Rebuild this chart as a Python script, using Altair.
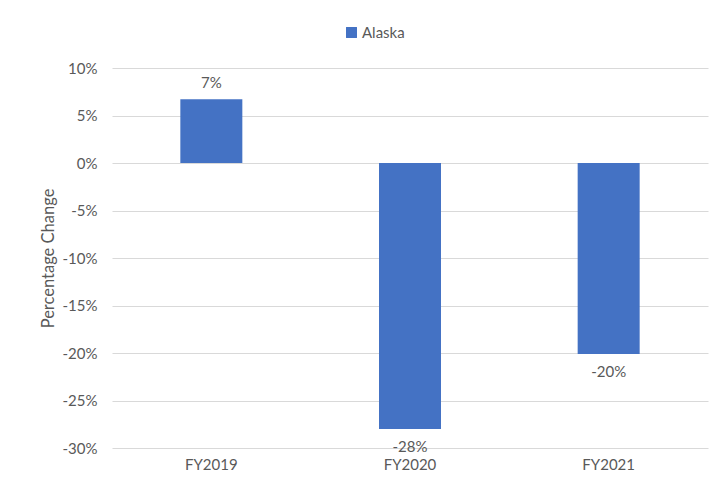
import altair as alt
import pandas as pd

years = ["FY2019", "FY2020", "FY2021"]
changes = [0.067, -0.280, -0.201]
series = ["Alaska", "Alaska", "Alaska"]
y_ticks = [0.10, 0.05, 0.0, -0.05, -0.10, -0.15, -0.20, -0.25, -0.30]

df = pd.DataFrame({"year": years, "change": changes, "series": series})

FONT = "Lato"
GREY = "#595959"
BLUE = "#4472C4"
MINUS_FIX = "replace(format(datum.value, '.0%'), '\u2212', '-')"

xenc = alt.X("year:N", sort=years, title=None,
             scale=alt.Scale(paddingInner=0.688, paddingOuter=0.344),
             axis=alt.Axis(labelAngle=0, domain=False, ticks=False, labelPadding=9,
                           labelFont=FONT, labelFontSize=15, labelColor=GREY))

yscale = alt.Scale(domain=[-0.30, 0.10], nice=False)

bars = alt.Chart(df).mark_bar(size=62).encode(
    x=xenc,
    y=alt.Y("change:Q", scale=yscale, title="Percentage Change",
            axis=alt.Axis(values=y_ticks, labelExpr=MINUS_FIX, domain=False, ticks=False,
                          labelPadding=15, labelFont=FONT, labelFontSize=15, labelColor=GREY,
                          titleFont=FONT, titleFontSize=16.5, titleColor=GREY,
                          titleFontWeight="normal", titlePadding=6,
                          gridColor="#d9d9d9", gridWidth=1)),
    color=alt.Color("series:N", scale=alt.Scale(range=[BLUE]), title=None,
                    legend=alt.Legend(orient="none", legendX=232, legendY=-43,
                                      symbolType="square", symbolSize=120,
                                      symbolStrokeWidth=0, labelFont=FONT,
                                      labelFontSize=15, labelColor=GREY,
                                      labelOffset=3)),
)

base_lbl = alt.Chart(df).transform_calculate(
    label="replace(format(datum.change, '.0%'), '\u2212', '-')"
)

pos_labels = base_lbl.transform_filter("datum.change >= 0").mark_text(
    baseline="bottom", dy=-8, font=FONT, fontSize=15, color=GREY
).encode(x=alt.X("year:N", sort=years), y=alt.Y("change:Q", scale=yscale),
         text="label:N")

neg_labels = base_lbl.transform_filter("datum.change < 0").mark_text(
    baseline="top", dy=11, font=FONT, fontSize=15, color=GREY
).encode(x=alt.X("year:N", sort=years), y=alt.Y("change:Q", scale=yscale),
         text="label:N")

chart = alt.layer(bars, pos_labels, neg_labels).properties(
    width=596, height=380,
    autosize=alt.AutoSizeParams(type="none"),
    padding={"left": 104, "top": 60, "right": 6, "bottom": 24},
    background="white",
).configure_view(stroke=None)

chart.save("out.html", embed_options={"renderer": "svg", "actions": False})
